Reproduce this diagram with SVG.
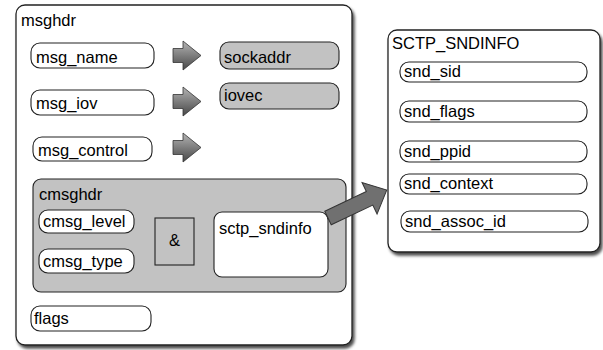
<svg xmlns="http://www.w3.org/2000/svg" width="603" height="350" viewBox="0 0 603 350">
  <defs>
    <filter id="shadow" x="-5%" y="-5%" width="115%" height="115%">
      <feDropShadow dx="2" dy="3" stdDeviation="1.5" flood-color="#000" flood-opacity="0.7"/>
    </filter>
    <linearGradient id="arrowFill" x1="0" y1="0" x2="0" y2="1">
      <stop offset="0" stop-color="#b4b4b4"/>
      <stop offset="1" stop-color="#474747"/>
    </linearGradient>
  </defs>
  <style>
    text { font-family: "Liberation Sans", Arial, Helvetica, sans-serif; font-size: 16.5px; fill: #000; }
    .outer { fill: #fff; stroke: #222; stroke-width: 1.3; filter: url(#shadow); }
    .pill { fill: #fff; stroke: #222; stroke-width: 1.1; }
    .grey { fill: #c2c2c2; stroke: #222; stroke-width: 1.1; }
    .blk { fill: url(#arrowFill); stroke: #333; stroke-width: 0.8; }
    .big { fill: #707070; stroke: #333; stroke-width: 1; }
  </style>

  <!-- msghdr structure -->
  <g id="msghdr">
    <rect class="outer" x="16" y="5" width="336" height="340" rx="9"/>
    <text x="21" y="26">msghdr</text>
  </g>
  <g id="msg_name">
    <rect class="pill" x="31" y="43" width="123" height="25" rx="9"/>
    <text x="36" y="63">msg_name</text>
  </g>
  <g id="msg_iov">
    <rect class="pill" x="31" y="90" width="123" height="25" rx="9"/>
    <text x="36" y="109">msg_iov</text>
  </g>
  <g id="msg_control">
    <rect class="pill" x="33" y="137" width="119" height="24" rx="9"/>
    <text x="38" y="156">msg_control</text>
  </g>
  <g id="sockaddr">
    <rect class="grey" x="220" y="42" width="119" height="27" rx="9"/>
    <text x="224" y="63">sockaddr</text>
  </g>
  <g id="iovec">
    <rect class="grey" x="220" y="83" width="119" height="26" rx="9"/>
    <text x="224" y="101">iovec</text>
  </g>

  <!-- cmsghdr block -->
  <g id="cmsghdr">
    <rect class="grey" x="33" y="179" width="313" height="113" rx="8"/>
    <text x="39" y="200">cmsghdr</text>
  </g>
  <g id="cmsg_level">
    <rect class="pill" x="39" y="210" width="95" height="23" rx="9"/>
    <text x="43" y="227">cmsg_level</text>
  </g>
  <g id="cmsg_type">
    <rect class="pill" x="39" y="249" width="95" height="24" rx="9"/>
    <text x="43" y="267">cmsg_type</text>
  </g>
  <g id="amp">
    <rect class="grey" x="155" y="218" width="39" height="47" rx="0"/>
    <text x="174.5" y="246" text-anchor="middle">&amp;</text>
  </g>
  <g id="sctp_sndinfo">
    <rect class="pill" x="214" y="212" width="114" height="65" rx="8"/>
    <text x="219" y="234">sctp_sndinfo</text>
  </g>
  <g id="flags">
    <rect class="pill" x="31" y="306" width="120" height="25" rx="9"/>
    <text x="34" y="324">flags</text>
  </g>

  <!-- SCTP_SNDINFO structure -->
  <g id="SCTP_SNDINFO">
    <rect class="outer" x="388" y="30" width="212" height="222" rx="9"/>
    <text x="392" y="49">SCTP_SNDINFO</text>
  </g>
  <g id="snd_sid">
    <rect class="pill" x="400" y="62" width="187" height="20" rx="9"/>
    <text x="404" y="77">snd_sid</text>
  </g>
  <g id="snd_flags">
    <rect class="pill" x="400" y="101" width="187" height="21" rx="9"/>
    <text x="404" y="117">snd_flags</text>
  </g>
  <g id="snd_ppid">
    <rect class="pill" x="400" y="141" width="187" height="21" rx="9"/>
    <text x="404" y="157">snd_ppid</text>
  </g>
  <g id="snd_context">
    <rect class="pill" x="400" y="174" width="187" height="20" rx="9"/>
    <text x="404" y="189">snd_context</text>
  </g>
  <g id="snd_assoc_id">
    <rect class="pill" x="401" y="211" width="187" height="21" rx="9"/>
    <text x="405" y="227">snd_assoc_id</text>
  </g>

  <!-- pointer arrows -->
  <g id="connectors">
    <polygon class="blk" points="173,48.5 183,48.5 183,41 201,55.5 183,70 183,62.5 173,62.5"/>
    <polygon class="blk" points="173,94.5 183,94.5 183,87 201,101.5 183,116 183,108.5 173,108.5"/>
    <polygon class="blk" points="173,140.5 183,140.5 183,133 201,147.5 183,162 183,154.5 173,154.5"/>
    <polygon class="big" transform="translate(328 218) rotate(-25.4)" points="0,-7.5 46,-7.5 46,-17.5 65,0 46,17.5 46,7.5 0,7.5"/>
  </g>
</svg>
